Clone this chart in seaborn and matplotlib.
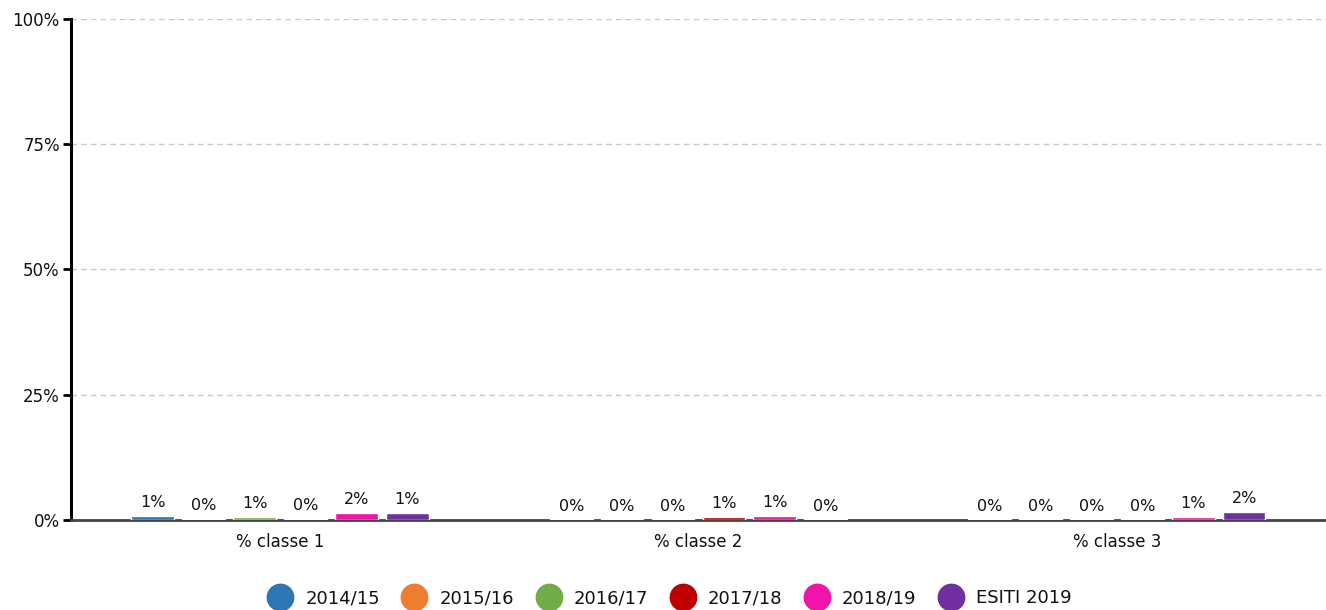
import seaborn as sns
import pandas as pd
import matplotlib.pyplot as plt
from matplotlib.lines import Line2D

# data (percent)
categories = ["% classe 1", "% classe 2", "% classe 3"]
years = ["2014/15", "2015/16", "2016/17", "2017/18", "2018/19", "ESITI 2019"]
colors = ["#2E75B6", "#ED7D31", "#70AD47", "#C00000", "#F213AA", "#7030A0"]

v_2014 = [0.85, 0.15, 0.15]
v_2015 = [0.2, 0.15, 0.15]
v_2016 = [0.65, 0.15, 0.15]
v_2017 = [0.2, 0.65, 0.15]
v_2018 = [1.5, 0.8, 0.65]
v_esiti = [1.4, 0.15, 1.6]

series = [v_2014, v_2015, v_2016, v_2017, v_2018, v_esiti]

rows = []
for year, vals in zip(years, series):
    for cat, v in zip(categories, vals):
        rows.append({"classe": cat, "anno": year, "valore": v})
df = pd.DataFrame(rows)

sns.set_style("white")
plt.rcParams["font.family"] = ["DejaVu Sans"]

fig = plt.figure(figsize=(13.26, 6.10), dpi=100)
ax = fig.add_axes([0.0535, 0.1475, 0.9465, 0.8214])

sns.barplot(data=df, x="classe", y="valore", hue="anno", hue_order=years,
            palette=colors, width=0.73, gap=0.16, saturation=1,
            errorbar=None, legend=False, ax=ax, zorder=3)

for cont in ax.containers:
    labels = [f"{b.get_height():.0f}%" for b in cont]
    ax.bar_label(cont, labels=labels, padding=4, fontsize=11.5, color="#111111")

ax.set_ylim(0, 100)
ax.set_xlim(-0.5, 2.5)
ax.set_yticks([0, 25, 50, 75, 100])
ax.set_yticklabels(["0%", "25%", "50%", "75%", "100%"])
ax.yaxis.grid(True, linestyle=(0, (4, 3)), color="#c8c8c8", linewidth=1)
ax.set_axisbelow(True)

ax.set_xlabel("")
ax.set_ylabel("")
ax.tick_params(axis="y", left=True, length=6, width=2, color="black",
               labelsize=12, pad=2, labelcolor="#111111")
ax.tick_params(axis="x", bottom=False, labelsize=12, pad=6, labelcolor="#111111")

for s in ["top", "right"]:
    ax.spines[s].set_visible(False)
ax.spines["left"].set_linewidth(2.2)
ax.spines["left"].set_color("black")
ax.spines["bottom"].set_linewidth(2)
ax.spines["bottom"].set_color("#444444")

handles = [Line2D([0], [0], marker="o", linestyle="", markersize=19,
                  markerfacecolor=c, markeredgecolor=c) for c in colors]
fig.legend(handles, years, loc="lower center", ncol=6, frameon=False,
           bbox_to_anchor=(0.503, -0.022), fontsize=13, handletextpad=0.4,
           columnspacing=0.9, labelcolor="#111111")

fig.savefig("out.png", dpi=100)
